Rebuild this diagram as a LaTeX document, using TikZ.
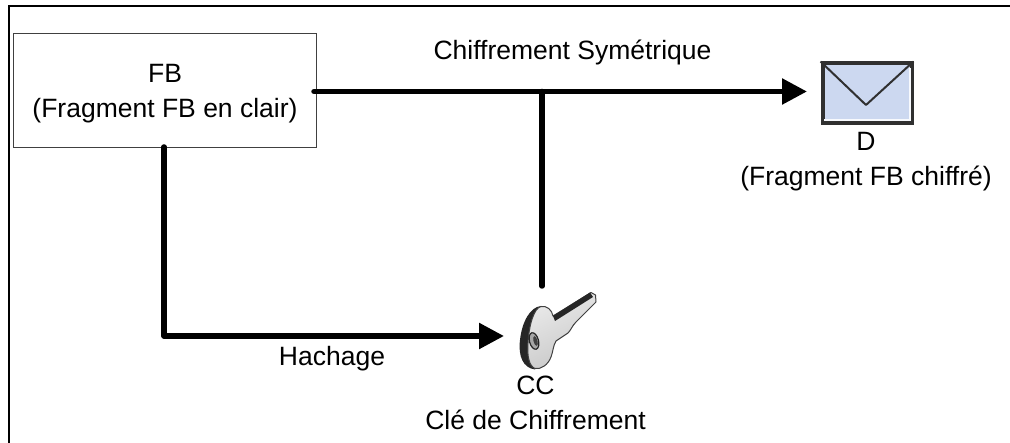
\documentclass[tikz,border=0pt]{standalone}
\usepackage{fontspec}
\setmainfont{Liberation Sans}
\usetikzlibrary{arrows.meta}
\definecolor{envfill}{HTML}{CCD8F0}
\definecolor{envedge}{HTML}{303030}
\tikzset{
  lbl/.style={inner sep=0pt,align=center,font=\fontsize{26.5}{35}\selectfont,text=black},
  fbbox/.style={draw=black!75,line width=1pt,fill=white,minimum width=303pt,minimum height=114pt,inner sep=0pt},
  flow/.style={line width=5.5pt,line cap=round,line join=round},
  flowarrow/.style={flow,-{Triangle[length=25pt,width=25pt]}},
  envbox/.style={draw=envedge,line width=4pt,fill=envfill,minimum width=89pt,minimum height=60pt,inner sep=0pt},
}
\begin{document}
\begin{tikzpicture}[x=1pt,y=-1pt]
\useasboundingbox (0,0) rectangle (1010,443);
\fill[white] (0,0) rectangle (1010,443);
% outer frame (left and top only)
\draw[line width=2.2pt] (9,443) -- (9,6) -- (1010,6);
% box
\node[fbbox,lbl] (fb) at (164.5,91) {};
\node[lbl] (fbt) at (165,94) {FB\\(Fragment FB en clair)};
% envelope
\node[envbox] (env) at (867,93.5) {};
\draw[envedge,line width=2pt,line join=round] (env.north west) -- (866,105) -- (env.north east);
\draw[white!85!envfill,line width=1.6pt] (824,120) -- (910,120) -- (910,68);
\coordinate (envin) at (807,91.5);
\coordinate (junction) at (542,91.5);
\coordinate (keytop) at (542,286);
\coordinate (corner) at (164,336);
\coordinate (keyin) at (504,336);
\coordinate (fbeast) at (314,91.5);
\coordinate (fbsouth) at (164,147);
% key
\fill[black!85] (541,306) .. controls (530,307) and (522,322) .. (520,340)
  .. controls (518,356) and (523,368) .. (535,369.5) -- (542,360) -- (550,312) -- cycle;
\draw[black!75,line width=1pt,left color=white!92!black,right color=black!22,shading angle=25,line join=round]
  (541,306.5) .. controls (547,305.5) and (552,310) .. (553,316)
  -- (591,292.5) -- (595.5,295) -- (596,302) -- (576,322)
  .. controls (572,326) and (571,330) .. (568,333)
  -- (556,341) .. controls (553,346) and (553,352) .. (551,357)
  .. controls (548,365) and (541,369.5) .. (535,368.5)
  .. controls (529,366) and (527,356) .. (528,343)
  .. controls (529,325) and (534,308) .. (541,306.5) -- cycle;
\fill[black!85] (553,316) -- (590,292.5) -- (593,297) -- (555,321) -- cycle;
\draw[black!85,line width=1.2pt,fill=white!65!black,rotate around={15:(534,341)}] (534,341) ellipse [x radius=4.5,y radius=8.5];
\fill[black!75,rotate around={15:(535.5,341)}] (535.5,341) ellipse [x radius=2,y radius=5];
% connectors
\draw[flowarrow] (fbeast) -- (envin);
\draw[flow] (junction) -- (keytop);
\draw[flowarrow] (fbsouth) -- (corner) -- (keyin);
% labels
\node[lbl] (chif) at (572.5,52) {Chiffrement Symétrique};
\node[lbl] (envl) at (866,161.5) {D\\(Fragment FB chiffré)};
\node[lbl] (hach) at (332,359) {Hachage};
\node[lbl] (keyl) at (535.5,403) {CC\\Clé de Chiffrement};
\end{tikzpicture}
\end{document}
